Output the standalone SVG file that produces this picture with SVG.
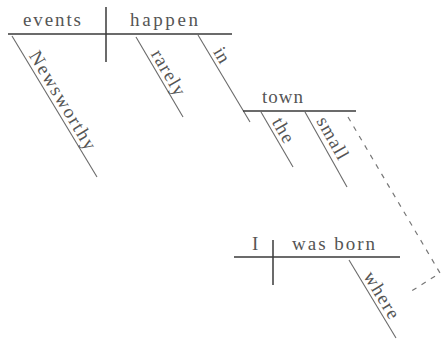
<svg xmlns="http://www.w3.org/2000/svg" width="442" height="347" viewBox="0 0 442 347">
<style>
text{font-family:"Liberation Serif","Times New Roman",serif;font-size:19px;fill:#555}
.base{stroke:#3a3a3a;stroke-width:1.5;fill:none}
.slant{stroke:#6a6a6a;stroke-width:1.1;fill:none}
.dash{stroke:#777;stroke-width:1.2;fill:none;stroke-dasharray:5 6}
</style>
<rect width="442" height="347" fill="#fff"/>
<g id="connectors">
<line class="base" x1="8" y1="34" x2="232" y2="34"/>
<line class="base" x1="106" y1="7" x2="106" y2="62"/>
<line class="slant" x1="12" y1="36" x2="97" y2="177"/>
<line class="slant" x1="136" y1="37" x2="183" y2="117"/>
<line class="slant" x1="198" y1="35" x2="250" y2="122"/>
<line class="base" x1="243" y1="111" x2="356" y2="111"/>
<line class="slant" x1="261" y1="112" x2="293" y2="167"/>
<line class="slant" x1="305" y1="112" x2="347" y2="187"/>
<polyline class="dash" points="348,117 440,273 410,292"/>
<line class="base" x1="234" y1="257" x2="400" y2="257"/>
<line class="base" x1="273" y1="240" x2="273" y2="285"/>
<line class="slant" x1="349" y1="260" x2="396" y2="338"/>
</g>
<g id="events"><text x="23" y="26" textLength="58" lengthAdjust="spacing">events</text></g>
<g id="happen"><text x="130" y="26" textLength="68" lengthAdjust="spacing">happen</text></g>
<g id="newsworthy"><text transform="translate(28.5,55.5) rotate(58.9)" textLength="112" lengthAdjust="spacing">Newsworthy</text></g>
<g id="rarely"><text transform="translate(150.5,54) rotate(59.6)" textLength="50" lengthAdjust="spacing">rarely</text></g>
<g id="in"><text transform="translate(212.7,51.8) rotate(59.1)" textLength="15" lengthAdjust="spacing">in</text></g>
<g id="town"><text x="262" y="103" textLength="41" lengthAdjust="spacing">town</text></g>
<g id="the"><text transform="translate(271.5,122) rotate(59.8)" textLength="26" lengthAdjust="spacing">the</text></g>
<g id="small"><text transform="translate(316,121) rotate(60.5)" textLength="46" lengthAdjust="spacing">small</text></g>
<g id="I"><text x="252" y="250">I</text></g>
<g id="was-born"><text x="292" y="250" textLength="83" lengthAdjust="spacing">was born</text></g>
<g id="where"><text transform="translate(363,276) rotate(58.9)" textLength="52" lengthAdjust="spacing">where</text></g>
</svg>
